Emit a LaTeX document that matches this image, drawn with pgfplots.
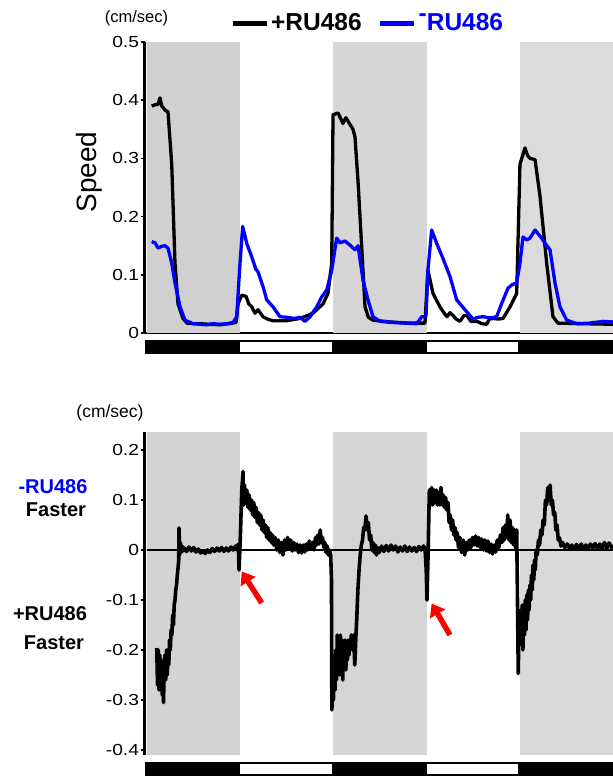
\documentclass[border=0pt]{standalone}
\usepackage{pgfplots}
\pgfplotsset{compat=1.18}
\usepackage{graphicx}
\usepackage{fontspec}
\setmainfont{Liberation Sans}
\usetikzlibrary{arrows.meta}
\definecolor{shA}{RGB}{208,208,208}
\definecolor{shB}{RGB}{214,214,214}
\definecolor{shC}{RGB}{219,219,219}
\definecolor{sbA}{RGB}{211,211,211}
\definecolor{sbB}{RGB}{213,213,213}
\definecolor{sbC}{RGB}{217,217,217}
\definecolor{ruBlue}{RGB}{0,0,255}
\pgfplotsset{
  common/.style={
    scale only axis, width=468.3pt, xmin=-0.3, xmax=60, clip=false,
    /pgf/number format/assume math mode=true,
    /pgf/number format/fixed, /pgf/number format/precision=1,
    yticklabel={\scalebox{1.2}[1]{\pgfmathprintnumber{\tick}}},
    yticklabel style={font=\fontsize{16}{19}\selectfont, inner sep=1.5pt},
    tick align=outside, major tick length=4pt,
    ytick style={line width=1.5pt, black},
    axis line style={line width=2.6pt, black},
    xtick=\empty,
  }
}
\begin{document}
\begin{tikzpicture}
\useasboundingbox (0,0) rectangle (613pt,-777pt);
% ---------------- top panel ----------------
\begin{axis}[common, at={(144.7pt,-333pt)}, anchor=south west, height=291pt,
  ymin=0, ymax=0.5, axis y line*=left, axis x line*=bottom,
  ytick={0,0.1,0.2,0.3,0.4,0.5},
  legend style={at={(0.476,1.065)}, anchor=center, draw=none, fill=none,
    legend columns=2, font=\bfseries\fontsize{24.5}{28}\selectfont,
    nodes={inner sep=2pt},
    /tikz/every even column/.append style={column sep=14pt},
    legend cell align=left},
  legend image code/.code={\draw[#1, line width=5pt] (0pt,0pt) -- (34pt,0pt);},
]
\addplot[fill=shA, draw=none, forget plot] coordinates {(0,0)(12,0)(12,0.5)(0,0.5)} -- cycle;
\addplot[fill=shB, draw=none, forget plot] coordinates {(24,0)(36,0)(36,0.5)(24,0.5)} -- cycle;
\addplot[fill=shC, draw=none, forget plot] coordinates {(48,0)(60,0)(60,0.5)(48,0.5)} -- cycle;
% light/dark bar
\addplot[fill=black, draw=none, forget plot] coordinates {(-0.26,-0.012)(60,-0.012)(60,-0.036)(-0.26,-0.036)} -- cycle;
\addplot[fill=white, draw=none, forget plot] coordinates {(12.0,-0.0155)(23.8,-0.0155)(23.8,-0.0325)(12.0,-0.0325)} -- cycle;
\addplot[fill=white, draw=none, forget plot] coordinates {(36.05,-0.0155)(47.8,-0.0155)(47.8,-0.0325)(36.05,-0.0325)} -- cycle;
% +RU486
\addplot[black, line width=3.3pt, line join=round] coordinates {
(0.6,0.39)(1.0,0.392)(1.42,0.393)(1.67,0.404)(1.9,0.39)(2.32,0.383)(2.70,0.38)(3.18,0.29)(3.60,0.12)(3.99,0.05)(4.63,0.025)(5.15,0.017)(6.0,0.016)(6.82,0.016)(8.0,0.015)(9.40,0.014)(10.5,0.016)(11.46,0.018)(11.72,0.05)(12.19,0.065)(12.75,0.063)(13.1,0.05)(13.48,0.045)(13.9,0.034)(14.29,0.04)(14.93,0.028)(15.5,0.024)(16.22,0.021)(17.9,0.021)(19.7,0.025)(21.37,0.034)(22.66,0.05)(23.30,0.068)(23.78,0.12)(23.95,0.375)(24.6,0.378)(25.23,0.36)(25.6,0.37)(26.52,0.35)(26.78,0.337)(27.17,0.26)(27.64,0.148)(28.07,0.045)(28.5,0.027)(29.1,0.022)(31.29,0.019)(33.86,0.017)(35.79,0.017)(36.17,0.108)(36.82,0.068)(37.72,0.045)(38.2,0.035)(38.63,0.028)(39.0,0.035)(39.4,0.03)(39.8,0.024)(40.3,0.02)(40.8,0.03)(41.2,0.03)(41.7,0.02)(42.5,0.02)(43.1,0.016)(43.74,0.015)(44.1,0.024)(44.55,0.025)(45.2,0.024)(45.84,0.025)(46.74,0.045)(47.6,0.068)(48.02,0.29)(48.67,0.318)(49.0,0.305)(49.31,0.3)(49.96,0.298)(50.6,0.235)(51.46,0.12)(52.27,0.028)(52.92,0.017)(56,0.016)(60,0.015)};
\addlegendentry{+RU486}
% -RU486
\addplot[ruBlue, line width=3.3pt, line join=round] coordinates {
(0.6,0.157)(1.03,0.155)(1.42,0.146)(1.9,0.149)(2.32,0.15)(2.70,0.146)(3.18,0.12)(3.60,0.086)(4.25,0.045)(4.89,0.022)(5.92,0.016)(7.72,0.014)(8.5,0.016)(9.4,0.015)(10.3,0.016)(11.07,0.018)(11.55,0.028)(11.97,0.12)(12.32,0.183)(12.84,0.154)(13.48,0.131)(14.0,0.11)(14.29,0.105)(14.93,0.08)(15.41,0.057)(16.22,0.045)(17.12,0.028)(18.03,0.027)(19.0,0.025)(19.7,0.027)(20.34,0.02)(20.99,0.028)(21.85,0.045)(22.49,0.062)(23.14,0.074)(23.78,0.108)(24.42,0.163)(24.85,0.155)(25.49,0.158)(26.14,0.151)(26.78,0.143)(27.17,0.15)(27.81,0.091)(28.45,0.057)(29.1,0.028)(30.0,0.02)(31.67,0.018)(33.2,0.017)(34.72,0.016)(35.37,0.028)(35.92,0.028)(36.17,0.108)(36.65,0.177)(37.3,0.154)(38.11,0.128)(39.01,0.097)(39.87,0.057)(40.94,0.04)(41.97,0.024)(42.6,0.027)(43.26,0.028)(44.2,0.026)(45.02,0.028)(45.67,0.051)(46.48,0.077)(47.0,0.083)(47.6,0.086)(48.02,0.12)(48.41,0.165)(48.9,0.16)(49.31,0.163)(49.96,0.177)(50.82,0.163)(51.2,0.155)(51.89,0.143)(52.53,0.086)(53.17,0.045)(54.04,0.022)(55.36,0.016)(57,0.017)(58.71,0.02)(60,0.019)};
\addlegendentry{\textcolor{ruBlue}{\raisebox{0.4em}[0pt][0pt]{-}RU486}}
\end{axis}
% ---------------- bottom panel ----------------
\begin{axis}[common, at={(144.7pt,-755pt)}, anchor=south west, height=323pt,
  ymin=-0.41, ymax=0.236, axis y line*=left, axis x line=none,
  ytick={-0.4,-0.3,-0.2,-0.1,0,0.1,0.2},
]
\addplot[fill=sbA, draw=none] coordinates {(0,-0.41)(12,-0.41)(12,0.236)(0,0.236)} -- cycle;
\addplot[fill=sbB, draw=none] coordinates {(24,-0.41)(36,-0.41)(36,0.236)(24,0.236)} -- cycle;
\addplot[fill=sbC, draw=none] coordinates {(48,-0.41)(60,-0.41)(60,0.236)(48,0.236)} -- cycle;
\addplot[fill=black, draw=none] coordinates {(-0.26,-0.424)(60,-0.424)(60,-0.452)(-0.26,-0.452)} -- cycle;
\addplot[fill=white, draw=none] coordinates {(12.0,-0.4285)(23.8,-0.4285)(23.8,-0.4475)(12.0,-0.4475)} -- cycle;
\addplot[fill=white, draw=none] coordinates {(36.05,-0.4285)(47.8,-0.4285)(47.8,-0.4475)(36.05,-0.4475)} -- cycle;
\addplot[black, line width=1.6pt] coordinates {(0,0)(60,0)};
\addplot[black, line width=3.6pt, line join=round] coordinates {
(1.25,-0.196)(1.35,-0.27)(1.45,-0.20)(1.55,-0.28)(1.65,-0.21)(1.75,-0.27)(1.85,-0.22)(1.95,-0.29)(2.05,-0.24)(2.12,-0.305)(2.2,-0.25)(2.3,-0.21)(2.4,-0.26)(2.5,-0.20)(2.6,-0.25)(2.7,-0.21)(2.8,-0.23)(2.9,-0.18)(3.0,-0.2)(3.1,-0.16)(3.2,-0.17)(3.3,-0.13)(3.4,-0.15)(3.5,-0.11)(3.6,-0.10)(3.7,-0.08)(3.8,-0.07)(3.9,-0.05)(4.0,-0.035)(4.08,-0.02)(4.12,0.044)(4.2,-0.01)(4.3,0.015)(4.4,-0.005)(4.5,0.008)(4.6,-0.002)
(4.8,0.004)(5.1,-0.003)(5.4,0.006)(5.7,-0.002)(6.0,0.005)(6.3,-0.004)(6.6,0.002)(6.9,-0.006)(7.2,-0.002)(7.5,-0.007)(7.8,0.0)(8.1,-0.005)(8.4,0.003)(8.7,-0.003)(9.0,0.004)(9.3,-0.002)(9.6,0.005)(9.9,-0.003)(10.2,0.004)(10.5,-0.002)(10.8,0.006)(11.1,0.0)(11.4,0.008)(11.6,0.0)(11.75,0.012)(11.85,-0.04)(12.0,0.02)(12.2,0.12)
(12.35,0.157)(12.45,0.09)(12.55,0.13)(12.7,0.095)(12.85,0.12)(13.0,0.085)(13.15,0.11)(13.3,0.08)(13.45,0.10)(13.6,0.07)(13.75,0.095)(13.9,0.065)(14.05,0.085)(14.2,0.055)(14.35,0.075)(14.5,0.05)(14.65,0.07)(14.8,0.04)(14.95,0.06)(15.1,0.035)(15.25,0.05)(15.4,0.025)(15.55,0.045)(15.7,0.02)(15.85,0.035)(16.0,0.015)(16.15,0.03)(16.3,0.01)(16.5,0.025)(16.7,0.0)(16.9,0.02)(17.1,-0.005)(17.3,0.015)(17.5,-0.01)(17.7,0.02)(17.9,0.0)(18.1,0.025)(18.3,0.005)(18.5,0.02)(18.7,-0.002)(18.9,0.015)(19.1,0.0)(19.3,0.012)(19.5,-0.005)(19.7,0.01)(19.9,-0.006)(20.1,0.01)(20.3,-0.004)(20.5,0.012)(20.7,0.0)(20.9,0.018)(21.1,0.002)(21.3,0.015)(21.5,0.0)(21.7,0.025)(21.85,0.01)(22.0,0.03)(22.15,0.012)(22.3,0.04)(22.45,0.015)(22.6,0.025)(22.75,0.005)(22.9,0.015)(23.05,-0.005)(23.2,0.008)(23.35,-0.01)(23.5,0.0)(23.65,-0.01)(23.75,-0.06)(23.8,-0.32)
(23.9,-0.27)(24.0,-0.30)(24.1,-0.24)(24.2,-0.28)(24.3,-0.2)(24.4,-0.26)(24.5,-0.17)(24.6,-0.24)(24.7,-0.18)(24.8,-0.25)(24.9,-0.17)(25.0,-0.23)(25.1,-0.18)(25.2,-0.26)(25.3,-0.19)(25.4,-0.23)(25.5,-0.18)(25.6,-0.24)(25.7,-0.19)(25.8,-0.22)(25.9,-0.18)(26.0,-0.21)(26.1,-0.18)(26.2,-0.2)(26.3,-0.17)(26.45,-0.2)(26.6,-0.17)(26.75,-0.23)(26.9,-0.17)(27.0,-0.14)(27.15,-0.08)(27.3,-0.04)(27.45,-0.01)(27.6,0.01)(27.75,0.02)(27.9,0.045)(28.05,0.04)(28.2,0.068)(28.35,0.04)(28.5,0.055)(28.65,0.02)(28.8,0.03)(28.95,0.0)(29.1,0.015)(29.25,-0.005)(29.4,0.01)(29.55,-0.01)(29.7,0.005)(29.9,-0.005)(30.2,0.008)(30.5,-0.003)(30.8,0.009)(31.1,-0.002)(31.4,0.01)(31.7,0.0)(32.0,0.008)(32.3,-0.004)(32.6,0.006)(32.9,-0.002)(33.2,0.008)(33.5,-0.003)(33.8,0.006)(34.1,-0.002)(34.4,0.005)(34.7,-0.003)(35.0,0.007)(35.3,0.0)(35.6,0.008)(35.8,0.002)(35.95,-0.04)(36.05,-0.1)(36.2,0.0)(36.35,0.12)
(36.5,0.09)(36.65,0.125)(36.8,0.09)(36.95,0.12)(37.1,0.095)(37.25,0.12)(37.4,0.09)(37.55,0.115)(37.7,0.09)(37.85,0.125)(38.0,0.09)(38.15,0.11)(38.3,0.085)(38.45,0.105)(38.6,0.08)(38.75,0.095)(38.9,0.055)(39.05,0.07)(39.2,0.04)(39.35,0.06)(39.5,0.03)(39.65,0.045)(39.8,0.02)(39.95,0.035)(40.1,0.005)(40.3,0.025)(40.5,-0.005)(40.7,0.02)(40.9,-0.01)(41.1,0.015)(41.3,0.0)(41.5,0.02)(41.7,0.005)(41.9,0.025)(42.1,0.01)(42.3,0.028)(42.5,0.008)(42.7,0.025)(42.9,0.005)(43.1,0.022)(43.3,0.0)(43.5,0.02)(43.7,-0.002)(43.9,0.018)(44.1,-0.005)(44.3,0.012)(44.5,-0.008)(44.7,0.01)(44.9,-0.004)(45.1,0.02)(45.3,0.005)(45.5,0.03)(45.7,0.015)(45.85,0.045)(46.0,0.02)(46.15,0.05)(46.3,0.025)(46.45,0.07)(46.6,0.02)(46.75,0.06)(46.9,0.015)(47.05,0.045)(47.2,0.01)(47.35,0.04)(47.5,0.0)(47.6,0.04)(47.7,-0.1)(47.8,-0.247)
(47.9,-0.14)(48.0,-0.19)(48.1,-0.12)(48.2,-0.18)(48.3,-0.11)(48.4,-0.2)(48.5,-0.12)(48.6,-0.17)(48.7,-0.1)(48.8,-0.16)(48.9,-0.09)(49.0,-0.14)(49.1,-0.08)(49.2,-0.12)(49.3,-0.07)(49.4,-0.1)(49.5,-0.05)(49.6,-0.08)(49.7,-0.03)(49.8,-0.06)(49.9,-0.02)(50.0,-0.04)(50.1,0.0)(50.25,-0.01)(50.4,0.02)(50.55,0.01)(50.7,0.04)(50.85,0.03)(51.0,0.06)(51.15,0.05)(51.3,0.1)(51.45,0.09)(51.6,0.125)(51.75,0.1)(51.9,0.13)(52.05,0.09)(52.2,0.1)(52.35,0.07)(52.5,0.075)(52.65,0.04)(52.8,0.05)(52.95,0.02)(53.1,0.025)(53.3,0.008)(53.5,0.015)(53.8,0.005)(54.1,0.012)(54.4,0.003)(54.7,0.01)(55.0,0.002)(55.3,0.011)(55.6,0.003)(55.9,0.012)(56.2,0.002)(56.5,0.01)(56.8,0.003)(57.1,0.012)(57.4,0.004)(57.7,0.013)(58.0,0.003)(58.3,0.012)(58.6,0.002)(58.9,0.015)(59.2,0.004)(59.5,0.014)(59.8,0.005)(60.0,0.01)};
\draw[red, line width=5.5pt, -{Triangle[length=12pt,width=17pt]}] (axis cs:14.77,-0.106) -- (axis cs:12.19,-0.043);
\draw[red, line width=5.5pt, -{Triangle[length=12pt,width=17pt]}] (axis cs:39.01,-0.17) -- (axis cs:36.65,-0.107);
\end{axis}
% ---------------- labels ----------------
\node[font=\fontsize{16.5}{19}\selectfont] at (136.5pt,-18pt) {(cm/sec)};
\node[font=\fontsize{28}{32}\selectfont, rotate=90] at (89pt,-172pt) {Speed};
\node[font=\fontsize{17.5}{20}\selectfont] at (110pt,-413pt) {(cm/sec)};
\node[font=\bfseries\fontsize{20}{24}\selectfont, text=ruBlue] at (53pt,-487pt) {-RU486};
\node[font=\bfseries\fontsize{20}{24}\selectfont] at (56pt,-510pt) {Faster};
\node[font=\bfseries\fontsize{20}{24}\selectfont] at (50pt,-614pt) {+RU486};
\node[font=\bfseries\fontsize{20}{24}\selectfont] at (54pt,-643pt) {Faster};
\end{tikzpicture}
\end{document}
